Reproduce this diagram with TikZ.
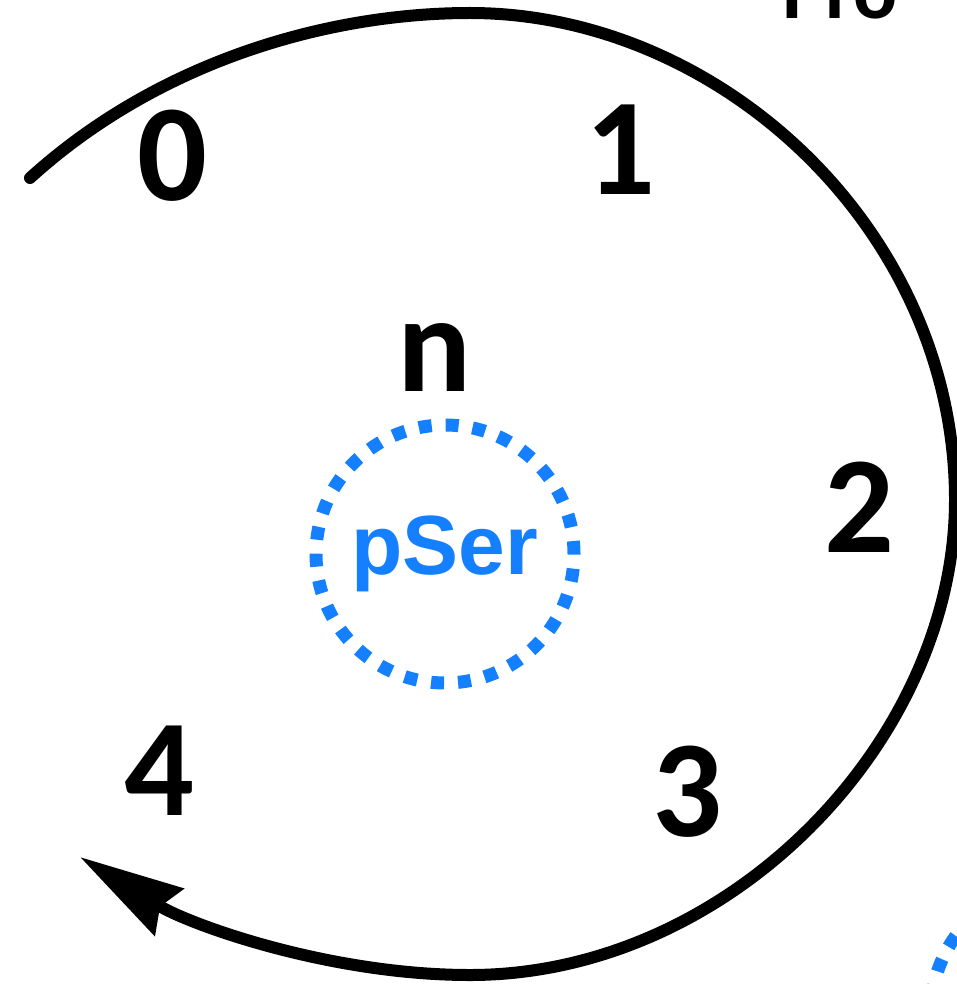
\documentclass[tikz,border=0pt]{standalone}
\usepackage{fontspec}
\setmainfont{Carlito}
\newfontfamily\calfont{Carlito}
\newfontfamily\arialfont{Liberation Sans}
\usetikzlibrary{arrows.meta}
\definecolor{serblue}{RGB}{20,128,255}
\tikzset{
  site/.style={circle,draw=serblue,line width=6.5pt,dash pattern=on 6.5pt off 7pt,
    line cap=butt,minimum size=129pt,inner sep=0pt,text=serblue,
    font=\arialfont\bfseries\fontsize{42}{42}\selectfont},
  cycle/.style={draw=black,line width=6pt,line cap=round,
    -{Stealth[length=52pt,width=27pt,inset=5pt]}}
}
\begin{document}
\begin{tikzpicture}[x=0.5pt,y=-0.5pt]
      \clip (0,0) rectangle (957,984);
      % the cycle arrow
      \coordinate (start) at (30,178);
      \coordinate (top) at (470,13);
      \coordinate (right) at (955,500);
      \coordinate (bottom) at (470,975);
      \coordinate (tip) at (80,857);
      \draw[cycle] (start) .. controls (160,60) and (330,13) .. (top)
        .. controls (720,13) and (955,230) .. (right)
        .. controls (955,740) and (730,975) .. (bottom)
        .. controls (330,975) and (190,925) .. (tip);
      \begin{scope}[every node/.style={font=\calfont\bfseries\fontsize{69}{69}\selectfont,inner sep=0pt,anchor=base}]
        \node (s0) at (172,201) {0};
        \node (s1) at (620,195) {1};
        \node (s2) at (859,552) {2};
        \node (s3) at (687,836) {3};
        \node (s4) at (159,815) {4};
        \node (n) at (435,391) {n};
      \end{scope}
      \node[font=\calfont\bfseries\fontsize{41}{41}\selectfont,inner sep=0pt,anchor=base] (pro) at (840,19) {Pro};
      \node[site] (pser) at (445,554) {pSer};
      \node[site] (next) at (1060,1012) {};
    \end{tikzpicture}
\end{document}
